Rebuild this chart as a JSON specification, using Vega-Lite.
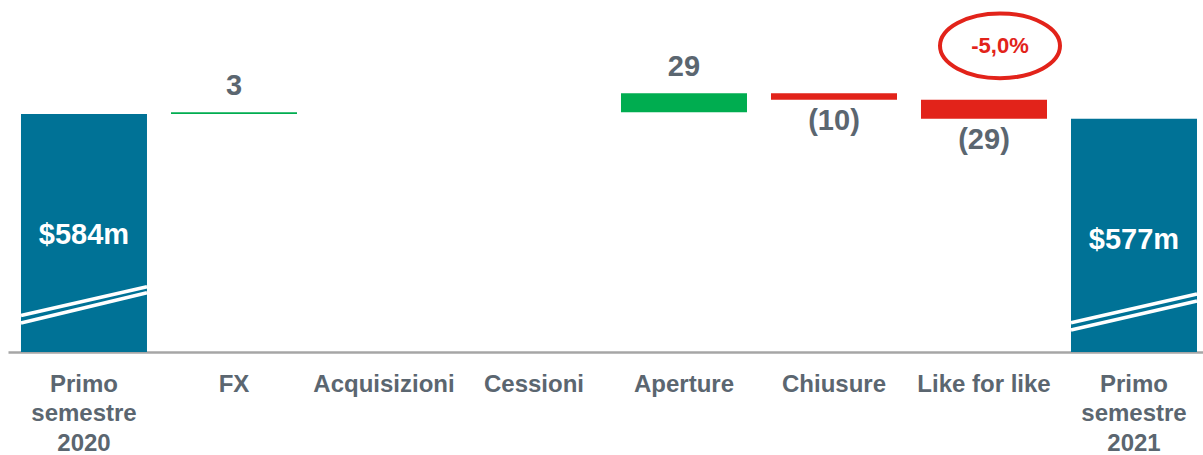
{
  "$schema": "https://vega.github.io/schema/vega-lite/v6.json",
  "width": 1195,
  "height": 352,
  "autosize": {"type": "none"},
  "padding": {"left": 8, "top": 0, "right": 0, "bottom": 103},
  "background": "white",
  "config": {"view": {"stroke": null}, "font": "Liberation Sans"},
  "datasets": {
    "steps": [
      {"category": "Primo semestre 2020", "type": "total", "start": 218, "end": 584, "label": "$584m"},
      {"category": "FX", "type": "increase", "start": 584, "end": 587, "label": "3"},
      {"category": "Acquisizioni", "type": "none", "start": 587, "end": 587, "label": ""},
      {"category": "Cessioni", "type": "none", "start": 587, "end": 587, "label": ""},
      {"category": "Aperture", "type": "increase", "start": 587, "end": 616, "label": "29"},
      {"category": "Chiusure", "type": "decrease", "start": 616, "end": 606, "label": "(10)"},
      {"category": "Like for like", "type": "decrease", "start": 606, "end": 577, "label": "(29)"},
      {"category": "Primo semestre 2021", "type": "total", "start": 218, "end": 577, "label": "$577m"}
    ],
    "breaks": [
      {"category": "Primo semestre 2020", "left": 274.2, "right": 318.5},
      {"category": "Primo semestre 2020", "left": 262.6, "right": 309.1},
      {"category": "Primo semestre 2021", "left": 263.1, "right": 307.2},
      {"category": "Primo semestre 2021", "left": 251.8, "right": 296.5}
    ],
    "notes": [
      {"category": "Like for like", "value": 689, "label": "-5,0%"}
    ]
  },
  "data": {"name": "steps"},
  "layer": [
    {
      "transform": [{"filter": "datum.type != 'none'"}],
      "mark": {"type": "bar"},
      "encoding": {
        "x": {
          "field": "category", "type": "nominal",
          "scale": {
            "domain": ["Primo semestre 2020", "FX", "Acquisizioni", "Cessioni", "Aperture", "Chiusure", "Like for like", "Primo semestre 2021"],
            "paddingInner": 0.16, "paddingOuter": 0.0633, "align": 0.684
          },
          "axis": {
            "title": null, "domainColor": "#a6a6a6", "domainWidth": 2.5, "ticks": false, "tickSize": 0,
            "labelPadding": 20, "labelFont": "Liberation Sans", "labelFontSize": 24, "labelFontWeight": "bold",
            "labelColor": "#5b6670", "labelAngle": 0, "labelBaseline": "top", "labelLineHeight": 29.5,
            "labelLimit": 300, "labelOverlap": false, "grid": false,
            "labelExpr": "indexof(datum.label,'Primo')==0 ? split(datum.label,' ') : datum.label"
          }
        },
        "y": {"field": "end", "type": "quantitative", "scale": {"domain": [218, 759.5], "zero": false, "nice": false}, "axis": null},
        "y2": {"field": "start"},
        "color": {
          "field": "type", "type": "nominal", "legend": null,
          "scale": {"domain": ["total", "increase", "decrease"], "range": ["#007296", "#00ad50", "#e2231a"]}
        }
      }
    },
    {
      "data": {"name": "breaks"},
      "mark": {"type": "rule", "color": "white", "strokeWidth": 3.5},
      "encoding": {
        "x": {"field": "category", "type": "nominal", "bandPosition": 0},
        "x2": {"field": "category", "bandPosition": 1},
        "y": {"field": "left", "type": "quantitative"},
        "y2": {"field": "right"}
      }
    },
    {
      "transform": [{"filter": "datum.type == 'total'"}],
      "mark": {"type": "text", "font": "Liberation Sans", "fontSize": 29, "fontWeight": "bold", "color": "white", "baseline": "alphabetic", "dy": 130},
      "encoding": {
        "x": {"field": "category", "type": "nominal"},
        "y": {"field": "end", "type": "quantitative"},
        "text": {"field": "label"}
      }
    },
    {
      "transform": [{"filter": "datum.type == 'increase'"}],
      "mark": {"type": "text", "font": "Liberation Sans", "fontSize": 29, "fontWeight": "bold", "color": "#5b6670", "baseline": "alphabetic", "dy": -17},
      "encoding": {
        "x": {"field": "category", "type": "nominal"},
        "y": {"field": "end", "type": "quantitative"},
        "text": {"field": "label"}
      }
    },
    {
      "transform": [{"filter": "datum.type == 'decrease'"}],
      "mark": {"type": "text", "font": "Liberation Sans", "fontSize": 29, "fontWeight": "bold", "color": "#5b6670", "baseline": "alphabetic", "dy": 30},
      "encoding": {
        "x": {"field": "category", "type": "nominal"},
        "y": {"field": "end", "type": "quantitative"},
        "text": {"field": "label"}
      }
    },
    {
      "data": {"name": "notes"},
      "mark": {"type": "point", "shape": "M-1,0A1,0.54,0,1,1,1,0A1,0.54,0,1,1,-1,0Z", "size": 14400, "filled": false, "stroke": "#e2231a", "strokeWidth": 4, "opacity": 1, "xOffset": 16},
      "encoding": {
        "x": {"field": "category", "type": "nominal"},
        "y": {"field": "value", "type": "quantitative"}
      }
    },
    {
      "data": {"name": "notes"},
      "mark": {"type": "text", "font": "Liberation Sans", "fontSize": 22, "fontWeight": "bold", "color": "#e2231a", "baseline": "middle", "dx": 16},
      "encoding": {
        "x": {"field": "category", "type": "nominal"},
        "y": {"field": "value", "type": "quantitative"},
        "text": {"field": "label"}
      }
    }
  ]
}
